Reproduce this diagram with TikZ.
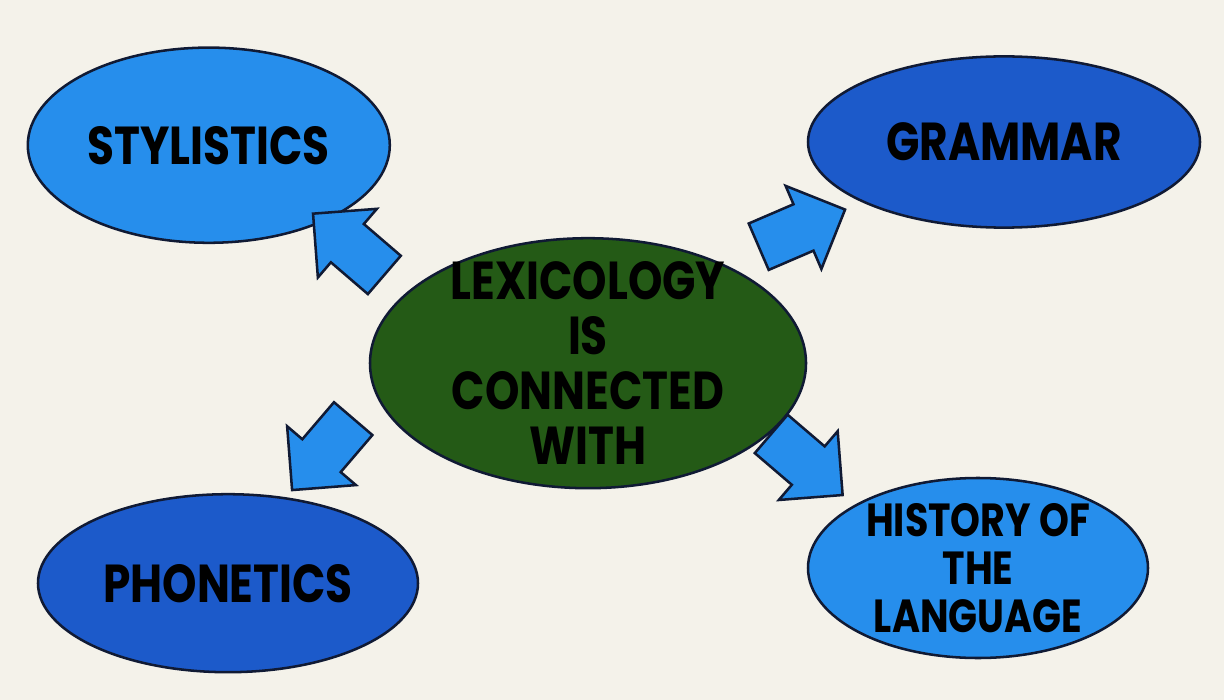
\documentclass[tikz,border=0pt]{standalone}
\usepackage{fontspec}
\newfontfamily\diagfont{Poppins}[FakeStretch=0.82]
\usetikzlibrary{shapes.geometric, shapes.arrows}
\definecolor{paper}{RGB}{244,242,234}
\definecolor{skyblue}{RGB}{38,142,236}
\definecolor{deepblue}{RGB}{28,90,202}
\definecolor{lexgreen}{RGB}{36,90,22}
\definecolor{rimblue}{RGB}{16,26,52}

\begin{document}
\begin{tikzpicture}[
  topic/.style={ellipse, draw=rimblue, line width=1.8pt, inner sep=0pt, align=center,
    font=\diagfont\bfseries\fontsize{38}{40}\selectfont},
  bigarrow/.style={single arrow, draw=rimblue, fill=skyblue, line width=1.8pt,
    minimum height=2.35cm, inner xsep=0pt, inner ysep=0.6cm, single arrow head extend=0.5cm,
    single arrow tip angle=90, sloped, allow upside down}]
  \fill[paper] (0,0) rectangle (30.6,-17.5);
  \useasboundingbox (0,0) rectangle (30.6,-17.5);
  \node[topic, fill=lexgreen, minimum width=10.9cm, minimum height=6.25cm,
    inner ysep=-1cm, font=\diagfont\bfseries\fontsize{38}{39}\selectfont]
    (lex) at (14.7,-9.08) {LEXICOLOGY\\IS\\CONNECTED\\WITH};
  \node[topic, fill=skyblue, minimum width=9.05cm, minimum height=4.88cm] (sty) at (5.22,-3.63) {STYLISTICS};
  \node[topic, fill=deepblue, minimum width=9.8cm, minimum height=4.28cm] (gram) at (25.1,-3.55) {GRAMMAR};
  \node[topic, fill=deepblue, minimum width=9.5cm, minimum height=4.45cm] (phon) at (5.7,-14.58) {PHONETICS};
  \node[topic, fill=skyblue, minimum width=8.5cm, minimum height=4.5cm, inner ysep=-0.7cm,
    font=\diagfont\bfseries\fontsize{33}{34}\selectfont]
    (hist) at (24.45,-14.2) {HISTORY OF\\THE\\LANGUAGE};
  \path (lex.159) -- node[bigarrow, pos=0.573] (toSty) {} (sty.-34);
  \path (lex.37) -- node[bigarrow, pos=0.491] (toGram) {} (gram.203);
  \path (lex.188) -- node[bigarrow, pos=0.496] (toPhon) {} (phon.56);
  \path (lex.-21) -- node[bigarrow, pos=0.321] (toHist) {} (hist.153);
\end{tikzpicture}
\end{document}
